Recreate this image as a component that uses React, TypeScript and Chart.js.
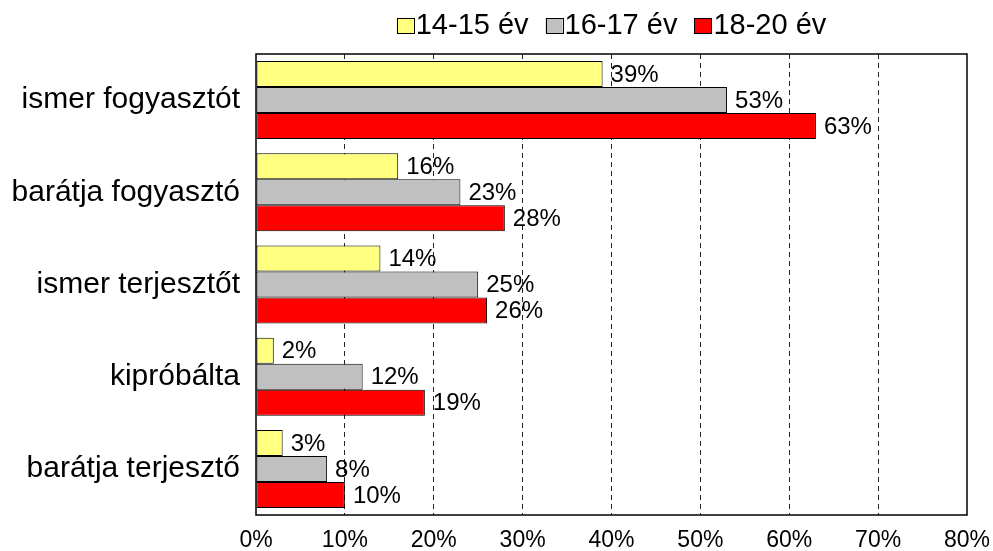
import React, { useEffect, useRef } from 'react';
import { Chart, registerables } from 'chart.js';

Chart.register(...registerables);

const categories = ['ismer fogyasztót', 'barátja fogyasztó', 'ismer terjesztőt', 'kipróbálta', 'barátja terjesztő'];
const seriesNames = ['14-15 év', '16-17 év', '18-20 év'];
const values1415 = [39, 16, 14, 2, 3];
const values1617 = [53, 23, 25, 12, 8];
const values1820 = [63, 28, 26, 19, 10];
const xMin = 0;
const xMax = 80;
const xStep = 10;
const seriesColors = ['#FFFF80', '#C0C0C0', '#FF0000'];

const FONT = '"Liberation Sans", Arial, sans-serif';

const legendPlugin = {
  id: 'customLegend',
  afterDraw(chart: any) {
    const { ctx, chartArea } = chart;
    ctx.save();
    ctx.font = `29px ${FONT}`;
    const boxW = 17;
    const boxH = 15;
    const gap = 2;
    const itemGap = 17;
    const widths = seriesNames.map((n) => ctx.measureText(n).width);
    const total = widths.reduce((a, w) => a + boxW + gap + w, 0) + itemGap * (seriesNames.length - 1);
    let x = (chartArea.left + chartArea.right) / 2 - total / 2;
    const boxTop = 18;
    const textY = 26;
    ctx.textBaseline = 'middle';
    ctx.textAlign = 'left';
    seriesNames.forEach((name, i) => {
      ctx.fillStyle = seriesColors[i];
      ctx.fillRect(x, boxTop, boxW, boxH);
      ctx.strokeStyle = '#000';
      ctx.lineWidth = 1;
      ctx.strokeRect(Math.round(x) + 0.5, boxTop + 0.5, boxW, boxH);
      ctx.fillStyle = '#000';
      ctx.fillText(name, x + boxW + gap, textY);
      x += boxW + gap + widths[i] + itemGap;
    });
    ctx.restore();
  },
};

const labelsAndFramePlugin = {
  id: 'labelsAndFrame',
  afterDatasetsDraw(chart: any) {
    const { ctx, chartArea } = chart;
    ctx.save();
    ctx.font = `24px ${FONT}`;
    ctx.fillStyle = '#000';
    ctx.textBaseline = 'middle';
    ctx.textAlign = 'left';
    chart.data.datasets.forEach((ds: any, i: number) => {
      const meta = chart.getDatasetMeta(i);
      meta.data.forEach((bar: any, j: number) => {
        ctx.fillText(`${ds.data[j]}%`, bar.x + 8, bar.y + 1);
      });
    });
    ctx.strokeStyle = '#000';
    ctx.lineWidth = 1.5;
    ctx.strokeRect(chartArea.left, chartArea.top, chartArea.right - chartArea.left, chartArea.bottom - chartArea.top);
    ctx.restore();
  },
};

export default function App() {
  const ref = useRef<HTMLCanvasElement>(null);

  useEffect(() => {
    const datasets = [values1415, values1617, values1820].map((data, i) => ({
      label: seriesNames[i],
      data,
      backgroundColor: seriesColors[i],
      borderColor: '#000',
      borderWidth: 1,
      borderSkipped: false as const,
      categoryPercentage: 0.846,
      barPercentage: 1.0,
    }));

    const chart = new Chart(ref.current!, {
      type: 'bar',
      data: { labels: categories, datasets },
      options: {
        indexAxis: 'y',
        responsive: false,
        animation: false,
        devicePixelRatio: 1,
        layout: { padding: { top: 54, right: 26, left: 0, bottom: 0 } },
        plugins: {
          legend: { display: false },
          tooltip: { enabled: false },
        },
        scales: {
          x: {
            type: 'linear',
            min: xMin,
            max: xMax,
            ticks: {
              stepSize: xStep,
              callback: (v: any) => `${v}%`,
              font: { family: FONT, size: 23 },
              color: '#000',
              padding: 12,
              maxRotation: 0,
            },
            grid: {
              color: (c: any) =>
                c.tick && (c.tick.value === xMin || c.tick.value === xMax) ? 'rgba(0,0,0,0)' : '#222',
              lineWidth: 1,
              drawTicks: false,
              tickLength: 0,
            },
            border: { display: false, dash: [5, 4] },
            afterFit: (scale: any) => {
              scale.height = 36;
              scale.paddingLeft = 0;
              scale.paddingRight = 0;
            },
          },
          y: {
            type: 'category',
            ticks: {
              font: { family: FONT, size: 30 },
              color: '#000',
              padding: 16,
            },
            grid: { display: false, drawTicks: false, tickLength: 0 },
            border: { display: false },
            afterFit: (scale: any) => {
              scale.width = 256;
              scale.paddingTop = 0;
              scale.paddingBottom = 0;
            },
          },
        },
      },
      plugins: [legendPlugin, labelsAndFramePlugin],
    });
    return () => chart.destroy();
  }, []);

  return (
    <div style={{ position: 'fixed', left: 0, top: 0, width: 993, height: 551, background: '#fff' }}>
      <canvas ref={ref} width={993} height={551} style={{ display: 'block', width: 993, height: 551 }} />
    </div>
  );
}
